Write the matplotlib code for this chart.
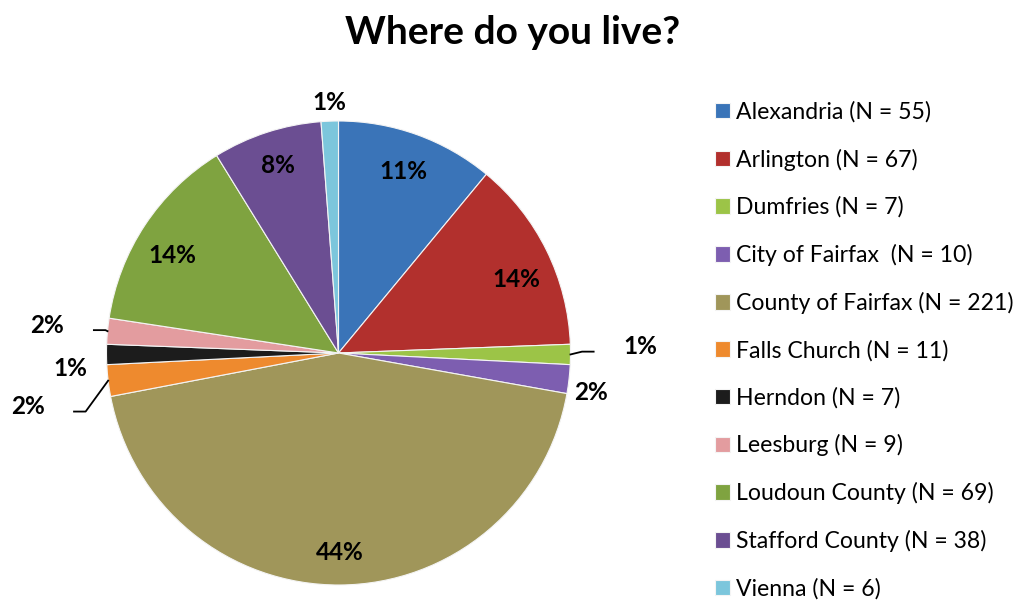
import matplotlib.pyplot as plt
import numpy as np

plt.rcParams['font.family'] = ['Lato', 'DejaVu Sans']

# survey answers
places = ['Alexandria', 'Arlington', 'Dumfries', 'City of Fairfax ', 'County of Fairfax',
          'Falls Church', 'Herndon', 'Leesburg', 'Loudoun County', 'Stafford County', 'Vienna']
counts = [55, 67, 7, 10, 221, 11, 7, 9, 69, 38, 6]
colors = ['#3A74B8', '#B2302D', '#9CC447', '#7D5EB0', '#A0965A', '#EE8A2E',
          '#1C1C1C', '#E39C9F', '#7FA340', '#6B4E92', '#7CC6DC']

# label placement: radius as a fraction of the pie radius, small angle tweak
label_r = [0.83, 0.83, 1.30, 1.10, 0.86, 1.36, 1.16, 1.26, 0.83, 0.85, 1.08]
label_dang = [0, -4, 1.5, -2.5, 0, 3, 3, 0, 3, 0, 0]
leader = [False, False, True, False, False, True, False, True, False, False, False]

total = sum(counts)
# whole-number percentages that add up to 100 (largest remainder)
raw = [100 * c / total for c in counts]
pct = [int(np.floor(v)) for v in raw]
left = 100 - sum(pct)
order = sorted(range(len(counts)), key=lambda i: (raw[i] - pct[i], counts[i]), reverse=True)
for i in order[:left]:
    pct[i] += 1

W, H = 1027, 606
fig = plt.figure(figsize=(W / 100, H / 100), dpi=100)
R = 232
cx, cy = 338.5, 606 - 353
span = 1.45
ax = fig.add_axes([(cx - span * R) / W, (cy - span * R) / H, 2 * span * R / W, 2 * span * R / H])

wedges, _ = ax.pie(counts, colors=colors, startangle=90, counterclock=False, radius=1.0,
                   wedgeprops=dict(edgecolor='#F4F4F4', linewidth=0.8))
ax.set_xlim(-span, span)
ax.set_ylim(-span, span)
ax.set_aspect('equal')
ax.axis('off')

for w, p, r, da, ld in zip(wedges, pct, label_r, label_dang, leader):
    mid = (w.theta1 + w.theta2) / 2
    ang = np.deg2rad(mid + da)
    x, y = r * np.cos(ang), r * np.sin(ang)
    ax.text(x, y, f'{p}%', ha='center', va='center', fontsize=17.5, fontweight='bold')
    if ld:
        m = np.deg2rad(mid)
        ex, ey = 1.0 * np.cos(m), 1.0 * np.sin(m)
        side = np.sign(x)
        kx = x - side * 0.2
        ly = y - 0.02
        ax.plot([ex, kx - side * 0.05, kx], [ey, ly, ly], color='black', lw=1.3, clip_on=False)

fig.text(513 / W, 1 - 33 / H, 'Where do you live?', ha='center', va='center',
         fontsize=28, fontweight='bold')

labels = [f'{p} (N = {c})' for p, c in zip(places, counts)]
fig.legend(wedges, labels, loc='upper left', bbox_to_anchor=(706 / W, 1 - 92 / H),
           frameon=False, fontsize=16.6, handlelength=0.66, handleheight=0.66,
           handletextpad=0.22, labelspacing=1.12, borderaxespad=0)

fig.savefig('out.png', dpi=100)
